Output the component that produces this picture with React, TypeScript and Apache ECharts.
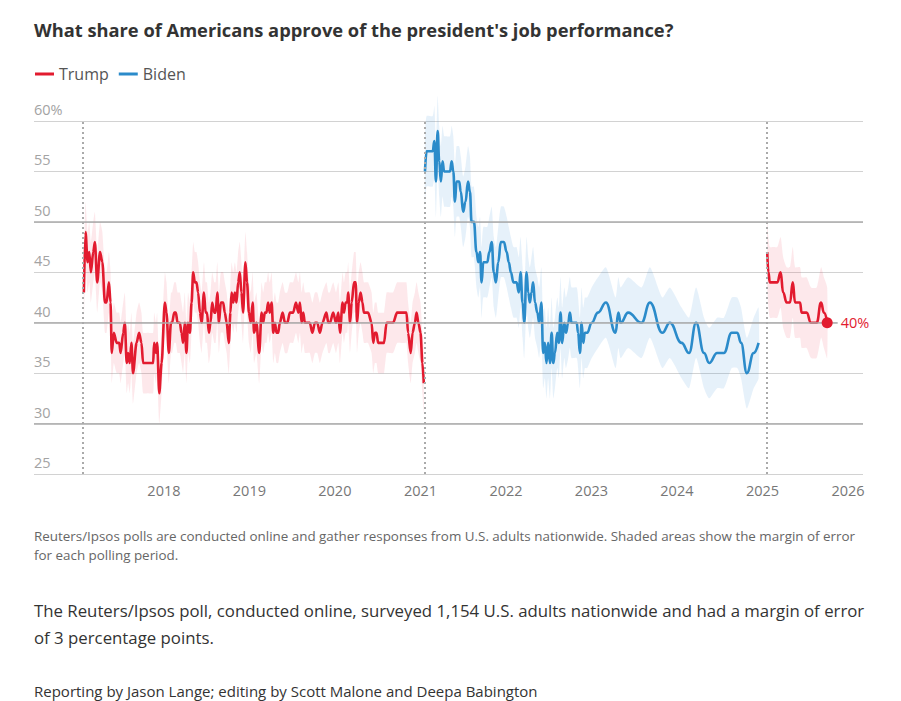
import React, { useEffect, useRef } from "react";
import * as echarts from "echarts";

// ---------- data ----------
const trumpFirstDates = [
  "2017-01-24","2017-01-31","2017-02-09","2017-02-16","2017-02-23","2017-03-05","2017-03-12","2017-03-22",
  "2017-04-03","2017-04-13","2017-04-24","2017-05-01","2017-05-11","2017-05-18","2017-05-23","2017-06-01",
  "2017-06-13","2017-06-24","2017-06-30","2017-07-11","2017-07-18","2017-07-26","2017-08-01","2017-08-08",
  "2017-08-15","2017-08-22","2017-09-06","2017-09-17","2017-09-27","2017-10-04","2017-10-24","2017-11-16",
  "2017-11-20","2017-11-28","2017-12-03","2017-12-12","2017-12-22","2018-01-05","2018-01-12","2018-01-22",
  "2018-01-31","2018-02-05","2018-02-14","2018-02-21","2018-02-28","2018-03-10","2018-03-17","2018-03-24",
  "2018-03-31","2018-04-07","2018-04-14","2018-04-22","2018-04-29","2018-05-06","2018-05-13","2018-05-20",
  "2018-05-27","2018-06-04","2018-06-11","2018-06-21","2018-06-28","2018-07-04","2018-07-12","2018-07-19",
  "2018-07-26","2018-08-04","2018-08-10","2018-08-17","2018-08-24","2018-09-01","2018-09-11","2018-09-18",
  "2018-09-26","2018-10-05","2018-10-12","2018-10-17","2018-10-24","2018-10-31","2018-11-07","2018-11-14",
  "2018-11-21","2018-11-28","2018-12-05","2018-12-15","2018-12-22","2018-12-30","2019-01-07","2019-01-15",
  "2019-01-21","2019-01-31","2019-02-12","2019-02-22","2019-03-01","2019-03-08","2019-03-15","2019-03-22",
  "2019-03-29","2019-04-06","2019-04-13","2019-04-20","2019-04-27","2019-05-04","2019-05-11","2019-05-23",
  "2019-06-02","2019-06-12","2019-06-23","2019-07-07","2019-07-19","2019-07-29","2019-08-05","2019-08-12",
  "2019-08-19","2019-08-26","2019-09-03","2019-09-16","2019-09-27","2019-10-08","2019-10-18","2019-10-29",
  "2019-11-09","2019-11-26","2019-12-04","2019-12-11","2019-12-25","2020-01-06","2020-01-16","2020-01-23",
  "2020-02-03","2020-02-09","2020-02-16","2020-02-23","2020-02-27","2020-03-06","2020-03-13","2020-03-23",
  "2020-03-30","2020-04-05","2020-04-12","2020-04-20","2020-04-28","2020-05-04","2020-05-12","2020-05-22",
  "2020-06-06","2020-06-13","2020-06-20","2020-06-27","2020-07-04","2020-07-19","2020-07-29","2020-08-09",
  "2020-08-23","2020-09-06","2020-09-23","2020-10-12","2020-10-26","2020-11-02","2020-11-09","2020-11-20",
  "2020-11-28","2020-12-08","2020-12-15","2020-12-23","2021-01-01","2021-01-09","2021-01-15",
];
const trumpFirstValues = [
  43,49,46,47,45,47,48,44,
  47,46,42,42,44,42,37,39,
  38,38,37,39,40,36,37,36,
  38,35,38,39,38,36,36,36,
  38,37,38,33,36,42,41,37,
  40,40,41,41,40,40,39,38,
  40,37,40,39,42,45,44,44,
  43,41,40,43,41,41,39,40,
  42,41,41,43,40,42,42,41,
  40,38,41,43,42,43,42,44,
  45,43,41,46,44,41,40,42,
  39,40,37,41,40,41,41,42,
  41,42,39,40,39,39,40,41,
  40,40,41,41,42,41,42,40,
  41,40,40,40,39,40,40,39,
  40,41,40,40,41,40,41,39,
  42,41,42,42,43,40,42,44,
  44,40,42,43,42,41,41,41,
  40,38,39,39,38,38,38,40,
  40,40,41,41,41,41,39,37,
  39,40,41,40,39,36,34,
];

const bidenDates = [
  "2021-01-20","2021-01-27","2021-02-22","2021-03-01","2021-03-08","2021-03-15","2021-03-22","2021-03-29",
  "2021-04-05","2021-04-12","2021-04-19","2021-05-07","2021-05-14","2021-05-21","2021-05-28","2021-06-04",
  "2021-06-15","2021-06-22","2021-07-02","2021-07-12","2021-07-23","2021-07-31","2021-08-07","2021-08-17",
  "2021-08-28","2021-09-05","2021-09-12","2021-09-19","2021-09-26","2021-10-13","2021-10-22","2021-11-01",
  "2021-11-10","2021-11-19","2021-11-29","2021-12-10","2021-12-23","2022-01-04","2022-01-13","2022-01-22",
  "2022-02-02","2022-02-15","2022-02-25","2022-03-04","2022-03-13","2022-03-20","2022-03-30","2022-04-06",
  "2022-04-13","2022-04-20","2022-04-27","2022-05-05","2022-05-15","2022-05-23","2022-06-01","2022-06-09",
  "2022-06-16","2022-06-23","2022-06-30","2022-07-08","2022-07-15","2022-07-22","2022-07-29","2022-08-08",
  "2022-08-15","2022-08-22","2022-08-29","2022-09-07","2022-09-14","2022-09-24","2022-10-01","2022-10-08",
  "2022-10-30","2022-11-05","2022-11-13","2022-11-20","2022-11-27","2022-12-04","2022-12-14","2023-01-02",
  "2023-01-29","2023-03-04","2023-04-14","2023-04-26","2023-05-06","2023-06-07","2023-08-03","2023-09-08",
  "2023-10-31","2023-12-02","2024-01-21","2024-02-22","2024-03-23","2024-04-26","2024-05-18","2024-06-21",
  "2024-07-20","2024-08-22","2024-09-15","2024-10-01","2024-10-26","2024-11-24","2024-12-15",
];
const bidenValues = [
  55,57,57,58,54,59,56,54,
  56,55,55,55,56,55,52,54,
  54,53,51,52,54,53,50,50,
  47,46,47,44,46,46,47,48,
  45,44,46,48,48,47,46,45,
  44,44,43,45,42,40,45,43,
  42,43,44,42,41,40,42,37,
  38,36,38,36,39,36,37,39,
  38,41,38,40,39,40,41,40,
  40,39,37,40,38,39,39,40,
  41,42,39,41,40,41,40,42,
  39,40,38,37,40,37,36,37,
  37,39,39,38,35,37,38,
];

const trumpSecondDates = [
  "2025-01-21","2025-01-26","2025-02-01","2025-02-16","2025-03-05","2025-03-19","2025-03-30","2025-04-14",
  "2025-04-28","2025-05-10","2025-05-20","2025-06-10","2025-06-17","2025-07-08","2025-07-27","2025-08-20",
  "2025-09-08","2025-09-20","2025-10-04",
];
const trumpSecondValues = [47,45,44,44,44,45,43,42,42,44,42,42,41,41,40,40,42,41,40];

// margin of error (percentage points) per era
const trumpFirstMoe = 3;
const bidenMoe = 3.5;
const trumpSecondMoe = 3.5;

const axisStart = "2016-06-25";
const axisEnd = "2026-03-06";
const termStarts = ["2017-01-20", "2021-01-20", "2025-01-20"];
const yearTicks = [2018, 2019, 2020, 2021, 2022, 2023, 2024, 2025, 2026];
const majorLevels = [30, 40, 50];

const RED = "#e21b2f";
const BLUE = "#2b8bca";
const RED_BAND = "rgba(240, 80, 100, 0.13)";
const BLUE_BAND = "rgba(60, 150, 220, 0.13)";
const FONT = "'Open Sans', Lato, sans-serif";

const toTime = (s: string) => {
  const [y, m, d] = s.split("-").map(Number);
  return new Date(y, m - 1, d).getTime();
};

function bandSeries(id: string, dates: string[], values: number[], moe: number, color: string, smooth: number) {
  const xs = dates.map(toTime);
  return {
    type: "custom",
    name: id,
    silent: true,
    clip: false,
    z: 1,
    data: [[xs[0], values[0]]],
    renderItem: (_params: any, api: any) => {
      const upper = xs.map((x, i) => api.coord([x, values[i] + moe]));
      const lower = xs.map((x, i) => api.coord([x, values[i] - moe])).reverse();
      return {
        type: "polygon",
        shape: { points: upper.concat(lower), smooth },
        style: { fill: color },
      };
    },
  };
}

function lineSeries(name: string, dates: string[], values: number[], color: string, smooth: number) {
  return {
    type: "line",
    name,
    data: dates.map((d, i) => [toTime(d), values[i]]),
    symbol: "none",
    showSymbol: false,
    smooth,
    smoothMonotone: "x",
    z: 3,
    lineStyle: { color, width: 2.6 },
    itemStyle: { color },
  };
}

export default function App() {
  const ref = useRef<HTMLDivElement>(null);

  useEffect(() => {
    if (!ref.current) return;
    const chart = echarts.init(ref.current, undefined, { renderer: "svg" });
    const lastIdx = trumpSecondValues.length - 1;
    const trumpSecond: any = lineSeries("Trump", trumpSecondDates, trumpSecondValues, RED, 0.5);
    trumpSecond.markPoint = {
      silent: true,
      animation: false,
      data: [
        {
          coord: [toTime(trumpSecondDates[lastIdx]), trumpSecondValues[lastIdx]],
          symbol: "circle",
          symbolSize: 11,
          itemStyle: { color: RED },
          label: {
            show: true,
            position: "right",
            distance: 5,
            formatter: trumpSecondValues[lastIdx] + "%",
            color: RED,
            fontSize: 14.5,
            fontFamily: FONT,
            backgroundColor: "#fff",
            padding: [2, 3],
          },
        },
      ],
    };

    chart.setOption({
      animation: false,
      title: {
        text: "What share of Americans approve of the president's job performance?",
        left: 34,
        top: 20,
        padding: 0,
        textStyle: { fontSize: 18.3, fontWeight: "bold", color: "#333", fontFamily: FONT },
      },
      legend: {
        data: ["Trump", "Biden"],
        left: 30,
        top: 61,
        icon: "rect",
        itemWidth: 19,
        itemHeight: 3,
        itemGap: 10,
        selectedMode: false,
        textStyle: { fontSize: 16, color: "#555", fontFamily: FONT },
      },
      grid: { left: 34, right: 38, top: 121, bottom: 227, containLabel: false },
      xAxis: {
        type: "value",
        min: toTime(axisStart),
        max: toTime(axisEnd),
        axisLine: { show: false },
        axisTick: { show: false },
        splitLine: { show: false },
        axisLabel: {
          customValues: yearTicks.map((y) => new Date(y, 0, 1).getTime()),
          formatter: (v: number) => String(new Date(v).getFullYear()),
          color: "#777",
          fontSize: 14.5,
          fontFamily: FONT,
          margin: 9,
          hideOverlap: false,
        },
      },
      yAxis: {
        type: "value",
        min: 25,
        max: 60,
        interval: 5,
        axisLine: { show: false },
        axisTick: { show: false },
        splitLine: { show: true, lineStyle: { color: "#d2d2d2", width: 1 } },
        axisLabel: {
          inside: true,
          margin: 0,
          verticalAlign: "bottom",
          padding: [0, 0, 4, 0],
          formatter: (v: number) => (v === 60 ? "60%" : String(v)),
          color: "#a3a3a3",
          fontSize: 14.5,
          fontFamily: FONT,
        },
      },
      series: [
        {
          type: "line",
          name: "refs",
          data: [],
          silent: true,
          z: 0,
          markLine: {
            silent: true,
            symbol: "none",
            animation: false,
            label: { show: false },
            data: [
              ...majorLevels.map((v) => ({ yAxis: v, lineStyle: { color: "#ababab", width: 1.6, type: "solid" } })),
              ...termStarts.map((d) => ({ xAxis: toTime(d), lineStyle: { color: "#aaaaaa", width: 2, type: [2, 3] } })),
            ],
          },
        },
        bandSeries("tb1", trumpFirstDates, trumpFirstValues, trumpFirstMoe, RED_BAND, 0.15),
        bandSeries("bb", bidenDates, bidenValues, bidenMoe, BLUE_BAND, 0.2),
        bandSeries("tb2", trumpSecondDates, trumpSecondValues, trumpSecondMoe, RED_BAND, 0.2),
        lineSeries("Trump", trumpFirstDates, trumpFirstValues, RED, 0.3),
        lineSeries("Biden", bidenDates, bidenValues, BLUE, 0.45),
        trumpSecond,
      ],
      graphic: [
        {
          type: "text",
          left: 34,
          top: 526,
          style: {
            text:
              "Reuters/Ipsos polls are conducted online and gather responses from U.S. adults nationwide. Shaded areas show the margin of error\nfor each polling period.",
            fontSize: 13.4,
            lineHeight: 19,
            fill: "#666",
            fontFamily: FONT,
          },
        },
        {
          type: "text",
          left: 34,
          top: 597,
          style: {
            text:
              "The Reuters/Ipsos poll, conducted online, surveyed 1,154 U.S. adults nationwide and had a margin of error\nof 3 percentage points.",
            fontSize: 16.8,
            lineHeight: 27,
            fill: "#333",
            fontFamily: FONT,
          },
        },
        {
          type: "text",
          left: 34,
          top: 683,
          style: {
            text: "Reporting by Jason Lange; editing by Scott Malone and Deepa Babington",
            fontSize: 15,
            fill: "#333",
            fontFamily: FONT,
          },
        },
      ],
    });
    return () => chart.dispose();
  }, []);

  return (
    <div
      ref={ref}
      style={{ position: "absolute", left: 0, top: 0, width: 901, height: 701, background: "#fff" }}
    />
  );
}
